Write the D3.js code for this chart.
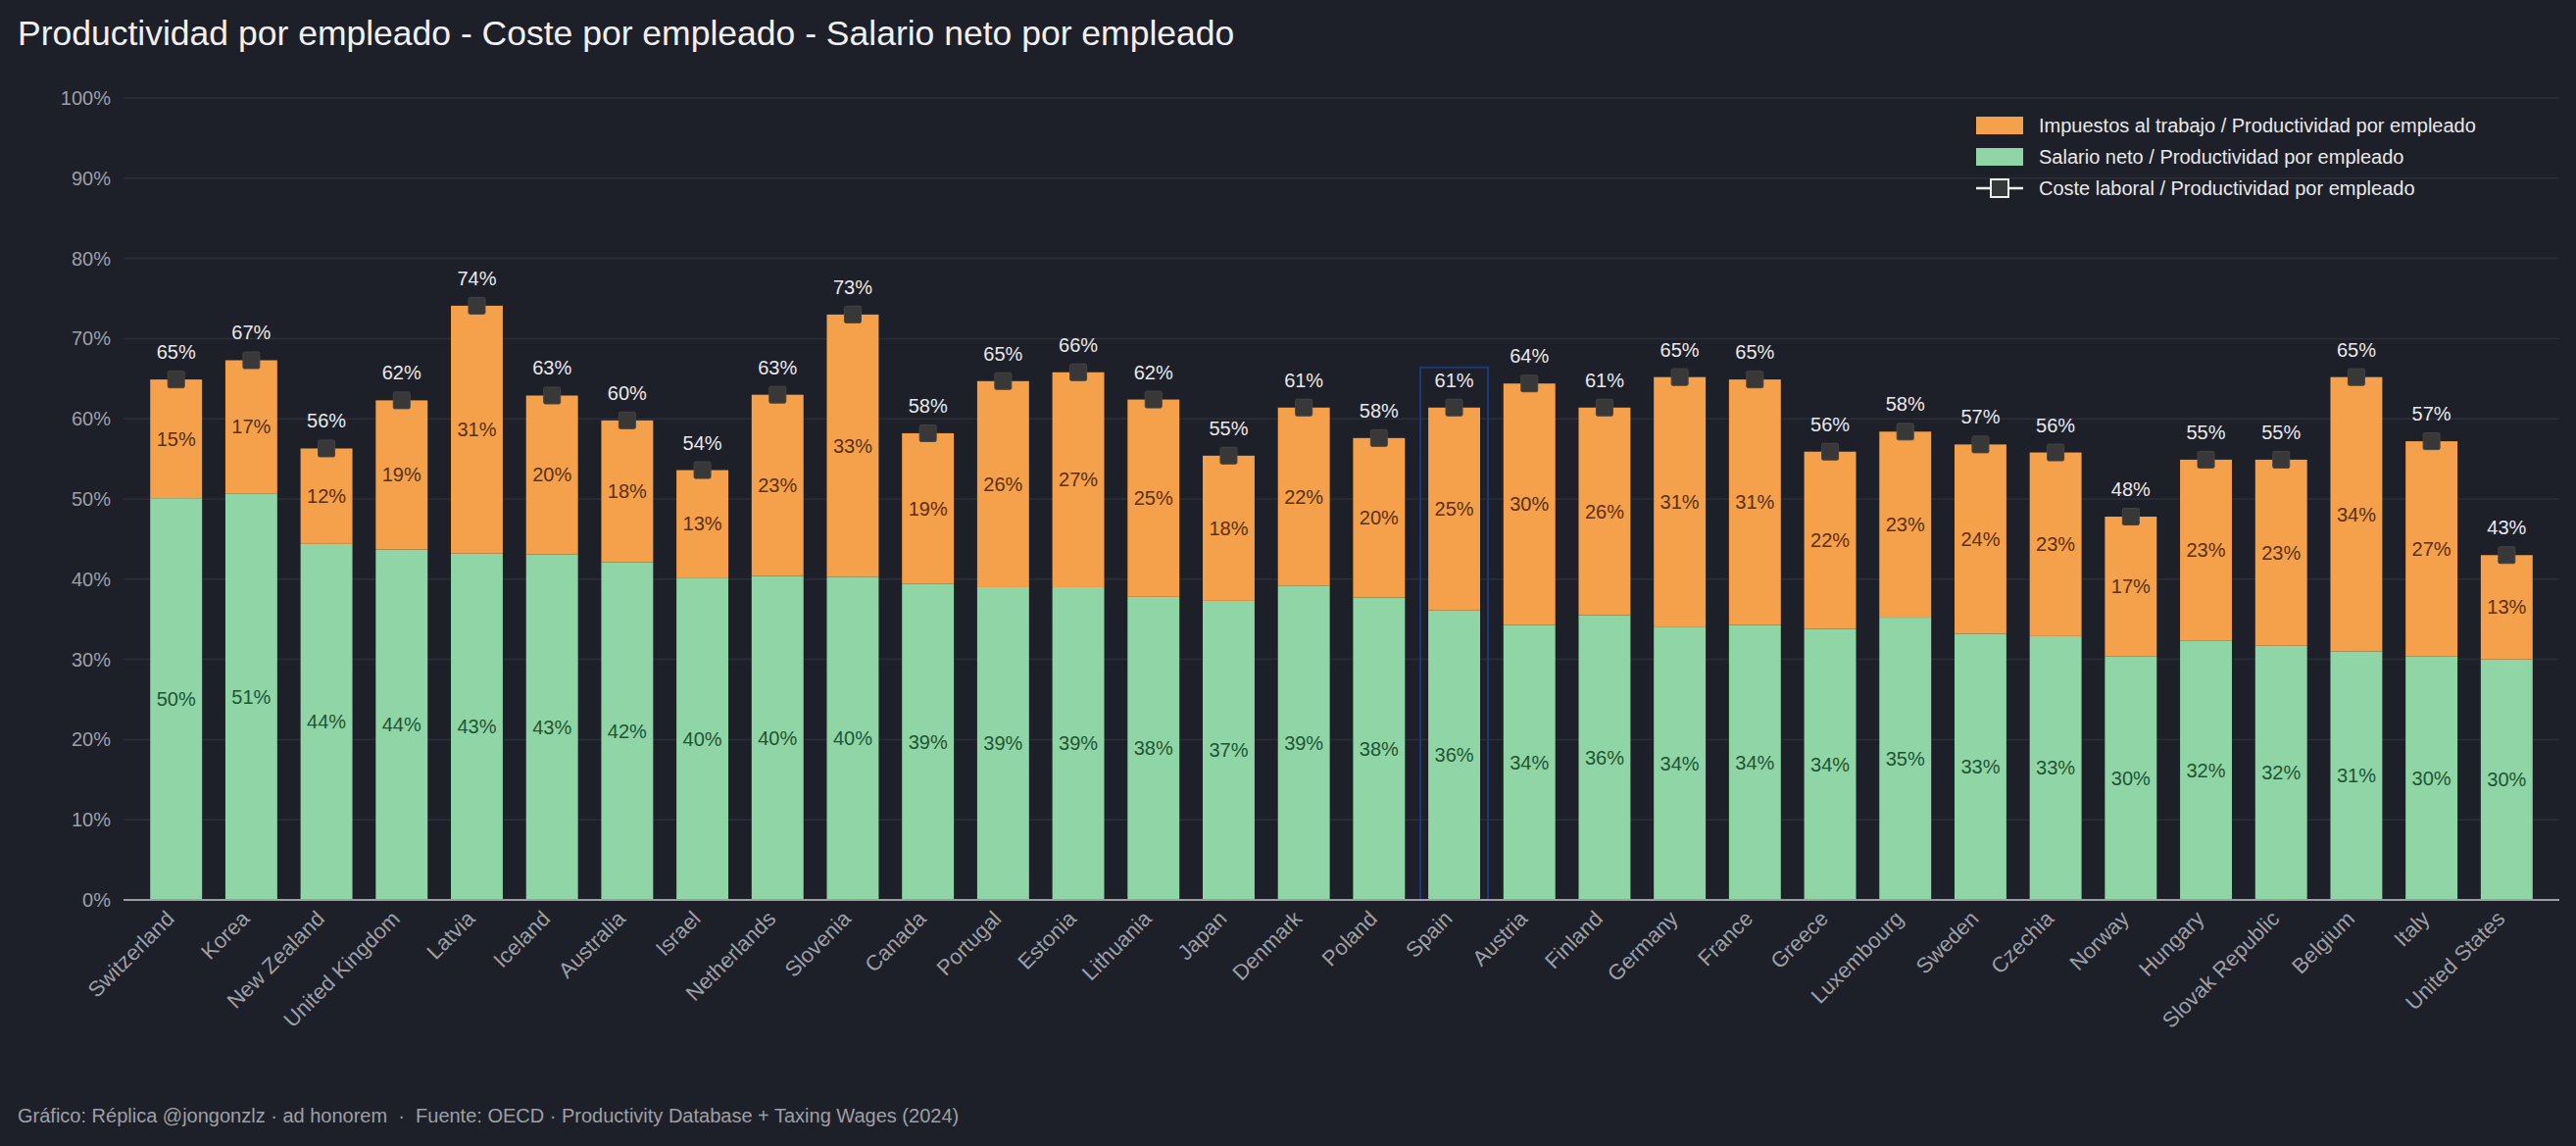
<!DOCTYPE html>
<html>
<head>
<meta charset="utf-8">
<script src="https://cdn.jsdelivr.net/npm/d3@7"></script>
<style>
  html, body { margin: 0; padding: 0; background: #1e2029; }
  svg { display: block; font-family: "Liberation Sans", Arial, Helvetica, sans-serif; }
</style>
</head>
<body>
<div id="chart"></div>
<script>
// Datos (% de la productividad por empleado)
const countries = ['Switzerland', 'Korea', 'New Zealand', 'United Kingdom', 'Latvia', 'Iceland', 'Australia',
    'Israel', 'Netherlands', 'Slovenia', 'Canada', 'Portugal', 'Estonia', 'Lithuania', 'Japan', 'Denmark',
    'Poland', 'Spain', 'Austria', 'Finland', 'Germany', 'France', 'Greece', 'Luxembourg', 'Sweden',
    'Czechia', 'Norway', 'Hungary', 'Slovak Republic', 'Belgium', 'Italy', 'United States'];

const salarioNeto = [50.1, 50.7, 44.4, 43.7, 43.2, 43.1, 42.1, 40.2, 40.4, 40.3, 39.4, 39.0, 39.0, 37.8, 37.3, 39.2,
    37.7, 36.1, 34.3, 35.5, 34.0, 34.3, 33.8, 35.2, 33.2, 32.9, 30.4, 32.3, 31.7, 31.0, 30.4, 30.0];

const impuestos = [14.8, 16.6, 11.9, 18.6, 30.9, 19.8, 17.7, 13.4, 22.6, 32.7, 18.8, 25.7, 26.8, 24.6, 18.1, 22.2,
    19.9, 25.3, 30.1, 25.9, 31.2, 30.6, 22.1, 23.2, 23.6, 22.9, 17.4, 22.6, 23.2, 34.2, 26.8, 13.0];

const costeLaboral = [64.9, 67.3, 56.3, 62.3, 74.1, 62.9, 59.8, 53.6, 63.0, 73.0, 58.2, 64.7, 65.8, 62.4, 55.4, 61.4,
    57.6, 61.4, 64.4, 61.4, 65.2, 64.9, 55.9, 58.4, 56.8, 55.8, 47.8, 54.9, 54.9, 65.2, 57.2, 43.0];

const yTicks = [0, 10, 20, 30, 40, 50, 60, 70, 80, 90, 100];
const highlight = 'Spain';

const legendItems = [
    { label: 'Impuestos al trabajo / Productividad por empleado', type: 'rect', color: '#f5a04a' },
    { label: 'Salario neto / Productividad por empleado', type: 'rect', color: '#8fd5a6' },
    { label: 'Coste laboral / Productividad por empleado', type: 'marker' }
];

const width = 2628;
const height = 1169;
const margin = { top: 100, right: 17, bottom: 251, left: 126 };

const colors = {
    bg: '#1e2029',
    grid: '#2b2e39',
    axis: '#9c9ea4',
    tick: '#9d9fa6',
    orange: '#f5a04a',
    green: '#8fd5a6',
    orangeText: '#5c300d',
    greenText: '#1f5533',
    marker: '#383838',
    total: '#e8e8ea',
    highlight: '#1d3a78'
};

const svg = d3.select('#chart').append('svg')
    .attr('width', width)
    .attr('height', height);

svg.append('rect')
    .attr('width', width)
    .attr('height', height)
    .attr('fill', colors.bg);

// Título
svg.append('text')
    .attr('x', 18)
    .attr('y', 46)
    .attr('fill', '#f0f0f2')
    .style('font-size', '35.5px')
    .text('Productividad por empleado - Coste por empleado - Salario neto por empleado');

const x = d3.scaleBand()
    .domain(countries)
    .range([margin.left, width - margin.right])
    .paddingInner(0.31)
    .paddingOuter(0.355);

const y = d3.scaleLinear()
    .domain([0, 100])
    .range([height - margin.bottom, margin.top]);

// Rejilla
svg.append('g')
    .selectAll('line')
    .data(yTicks.filter(d => d > 0))
    .enter().append('line')
    .attr('x1', margin.left)
    .attr('x2', width - margin.right)
    .attr('y1', d => y(d))
    .attr('y2', d => y(d))
    .attr('stroke', colors.grid)
    .attr('stroke-width', 1.5);

// Eje Y
const yAxis = svg.append('g')
    .attr('transform', `translate(${margin.left - 10},0)`)
    .call(d3.axisLeft(y).tickValues(yTicks).tickSize(0).tickFormat(d => d + '%'));
yAxis.select('.domain').remove();
yAxis.selectAll('text')
    .attr('fill', colors.tick)
    .style('font-size', '20px')
    .style('font-family', '"Liberation Sans", Arial, sans-serif');

const rows = countries.map((c, i) => ({
    country: c,
    salario: salarioNeto[i],
    impuestos: impuestos[i],
    coste: costeLaboral[i]
}));

// Recuadro de España
const hl = rows.find(d => d.country === highlight);
svg.append('rect')
    .attr('x', x(highlight) - 8)
    .attr('y', y(hl.coste) - 41)
    .attr('width', x.bandwidth() + 16)
    .attr('height', y(0) - y(hl.coste) + 41)
    .attr('fill', 'none')
    .attr('stroke', colors.highlight)
    .attr('stroke-width', 2);

const bars = svg.append('g').selectAll('g')
    .data(rows)
    .enter().append('g');

bars.append('rect')
    .attr('x', d => x(d.country))
    .attr('y', d => y(d.salario))
    .attr('width', x.bandwidth())
    .attr('height', d => y(0) - y(d.salario))
    .attr('fill', colors.green);

bars.append('rect')
    .attr('x', d => x(d.country))
    .attr('y', d => y(d.salario + d.impuestos))
    .attr('width', x.bandwidth())
    .attr('height', d => y(d.salario) - y(d.salario + d.impuestos))
    .attr('fill', colors.orange);

// Etiquetas dentro de las barras
bars.append('text')
    .attr('x', d => x(d.country) + x.bandwidth() / 2)
    .attr('y', d => (y(0) + y(d.salario)) / 2)
    .attr('dy', '0.35em')
    .attr('text-anchor', 'middle')
    .attr('fill', colors.greenText)
    .style('font-size', '20px')
    .text(d => Math.round(d.salario) + '%');

bars.append('text')
    .attr('x', d => x(d.country) + x.bandwidth() / 2)
    .attr('y', d => (y(d.salario) + y(d.salario + d.impuestos)) / 2)
    .attr('dy', '0.35em')
    .attr('text-anchor', 'middle')
    .attr('fill', colors.orangeText)
    .style('font-size', '20px')
    .text(d => Math.round(d.impuestos) + '%');

// Marcador de coste laboral
bars.append('rect')
    .attr('x', d => x(d.country) + x.bandwidth() / 2 - 8.5)
    .attr('y', d => y(d.coste) - 8.5)
    .attr('width', 17)
    .attr('height', 17)
    .attr('rx', 1.5)
    .attr('fill', colors.marker)
    .attr('stroke', '#444')
    .attr('stroke-width', 1);

bars.append('text')
    .attr('x', d => x(d.country) + x.bandwidth() / 2)
    .attr('y', d => y(d.coste) - 21)
    .attr('text-anchor', 'middle')
    .attr('fill', colors.total)
    .style('font-size', '20px')
    .text(d => Math.round(d.coste) + '%');

// Eje X
svg.append('line')
    .attr('x1', margin.left)
    .attr('x2', width - margin.right)
    .attr('y1', y(0))
    .attr('y2', y(0))
    .attr('stroke', colors.axis)
    .attr('stroke-width', 2);

svg.append('g').selectAll('text')
    .data(countries)
    .enter().append('text')
    .attr('transform', d => `translate(${x(d) + x.bandwidth() / 2 - 6},${y(0) + 15}) rotate(-45)`)
    .attr('text-anchor', 'end')
    .attr('dy', '0.35em')
    .attr('fill', colors.tick)
    .style('font-size', '22px')
    .text(d => d);

// Leyenda
const legend = svg.append('g')
    .attr('transform', 'translate(2016,119)');

const item = legend.selectAll('g')
    .data(legendItems)
    .enter().append('g')
    .attr('transform', (d, i) => `translate(0,${i * 32})`);

item.filter(d => d.type === 'rect').append('rect')
    .attr('width', 48)
    .attr('height', 18)
    .attr('fill', d => d.color);

const mk = item.filter(d => d.type === 'marker');
mk.append('line')
    .attr('x1', 0).attr('x2', 48)
    .attr('y1', 9).attr('y2', 9)
    .attr('stroke', '#f0f0f0')
    .attr('stroke-width', 2.5);
mk.append('rect')
    .attr('x', 15).attr('y', 0)
    .attr('width', 18).attr('height', 18)
    .attr('fill', colors.marker)
    .attr('stroke', '#f0f0f0')
    .attr('stroke-width', 2);

item.append('text')
    .attr('x', 64)
    .attr('y', 9)
    .attr('dy', '0.35em')
    .attr('fill', '#e8e8ea')
    .style('font-size', '20px')
    .text(d => d.label);

// Pie
svg.append('text')
    .attr('x', 18)
    .attr('y', 1145)
    .attr('fill', '#9d9fa6')
    .style('font-size', '20px')
    .style('white-space', 'pre')
    .text('Gráfico: Réplica @jongonzlz · ad honorem  ·  Fuente: OECD · Productivity Database + Taxing Wages (2024)');
</script>
</body>
</html>
